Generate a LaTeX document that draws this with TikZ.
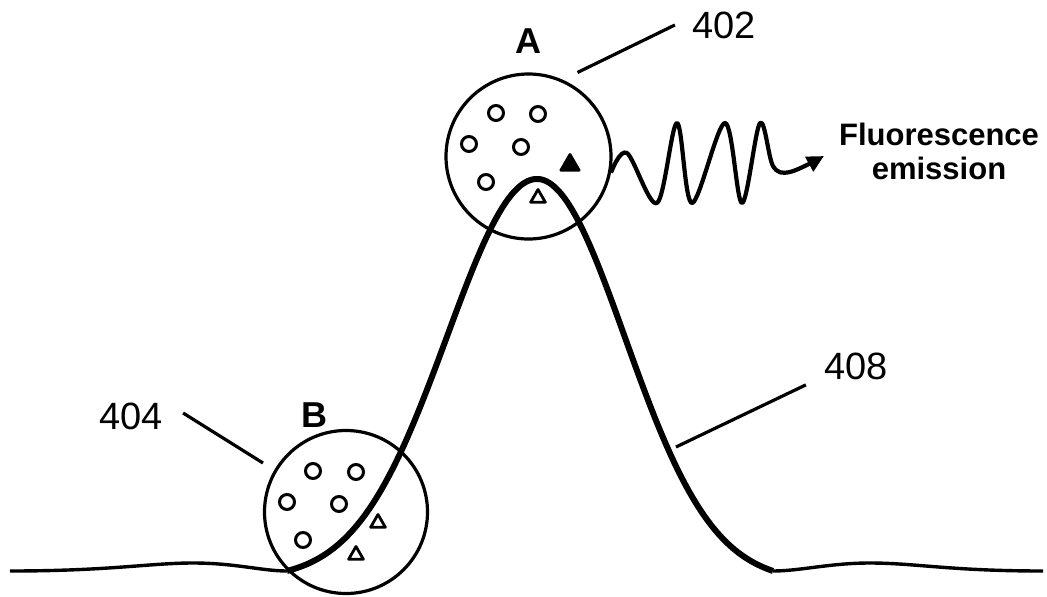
\documentclass[tikz,border=0pt]{standalone}
\usepackage{fontspec}
\setmainfont{Liberation Sans}
\usetikzlibrary{arrows.meta,shapes.geometric}
\tikzset{
  every picture/.style={x=1pt, y=-1pt, line width=2.8pt, line join=round},
  ring/.style={circle, draw, line width=3.2pt, inner sep=0pt},
  dot/.style={circle, draw, line width=3pt, minimum size=15pt, inner sep=0pt},
  tri/.style={regular polygon, regular polygon sides=3, draw, line width=2.8pt, minimum size=17pt, inner sep=0pt},
  trifill/.style={tri, fill=black, minimum size=21pt},
  num/.style={font=\fontsize{38}{45}\selectfont, inner sep=0pt},
  tag/.style={font=\bfseries\fontsize{36}{42}\selectfont, inner sep=0pt},
  emit/.style={font=\bfseries\fontsize{31}{34}\selectfont, align=center, inner sep=0pt},
  leader/.style={line width=3.2pt},
  curve/.style={line width=6pt},
  base/.style={line width=3.4pt},
  wave/.style={line width=4.2pt, -{Triangle[length=17pt,width=16pt]}},
}

\begin{document}
\begin{tikzpicture}
  \useasboundingbox (0,0) rectangle (1047,597);
  % the two regions on the curve
  \node[ring, minimum size=165pt] (circA) at (528.5,156.5) {};
  \node[ring, minimum size=163pt] (circB) at (346,512) {};
  \node[tag] (tagA) at (528,41) {A};
  \node[tag] (tagB) at (314,415) {B};
  % baseline either side of the peak
  \draw[base] (10,571) .. controls (110,571) and (150,563) .. (193,563)
    .. controls (235,563) and (262,571) .. (287,571);
  \draw[base] (773,571) .. controls (800,571) and (830,563) .. (870,563)
    .. controls (915,563) and (950,571) .. (1043,571);
  % peak 408
  \draw[curve] plot[domain=287:537, samples=80] (\x, {571-392*(exp(-0.5*((\x-537)/90)^2)-0.021)/0.979})
    -- plot[domain=537:773, samples=80] (\x, {571-392*(exp(-0.5*((\x-537)/88)^2)-0.0273)/0.9727});
  % particles in A
  \node[dot] (a1) at (496,113) {};
  \node[dot] (a2) at (538,114) {};
  \node[dot] (a3) at (469,144) {};
  \node[dot] (a4) at (521,147) {};
  \node[dot] (a5) at (486,182) {};
  \node[trifill] (a6) at (570,165) {};
  \node[tri] (a7) at (538,198) {};
  % particles in B
  \node[dot] (b1) at (313,471) {};
  \node[dot] (b2) at (356,472) {};
  \node[dot] (b3) at (287,502) {};
  \node[dot] (b4) at (339,504) {};
  \node[dot] (b5) at (303,540) {};
  \node[tri] (b6) at (378,523) {};
  \node[tri] (b7) at (356,555) {};
  % emission
  \node[emit] (emis) at (939,151) {Fluorescence\\ emission};
  \coordinate (tipE) at (824,156);
  \draw[wave] plot[smooth, tension=0.55] coordinates {(circA.-11) (627,153) (657,203) (677,123) (692,203)
    (725,123) (742,203) (760,123) (773,166) (790,172) (tipE)};
  % reference numerals
  \node[num] (l402) at (724,25) {402};
  \node[num] (l404) at (131,416) {404};
  \node[num] (l408) at (856,366) {408};
  \coordinate (c408) at (676,447);
  \draw[leader] ([xshift=-16pt]l402.west) -- ([shift={(49,-84)}]circA.center);
  \draw[leader] ([xshift=19pt,yshift=3pt]l404.east) -- ([shift={(-83,-49)}]circB.center);
  \draw[leader] ([xshift=-17pt,yshift=-4pt]l408.south west) -- (c408);
\end{tikzpicture}
\end{document}
